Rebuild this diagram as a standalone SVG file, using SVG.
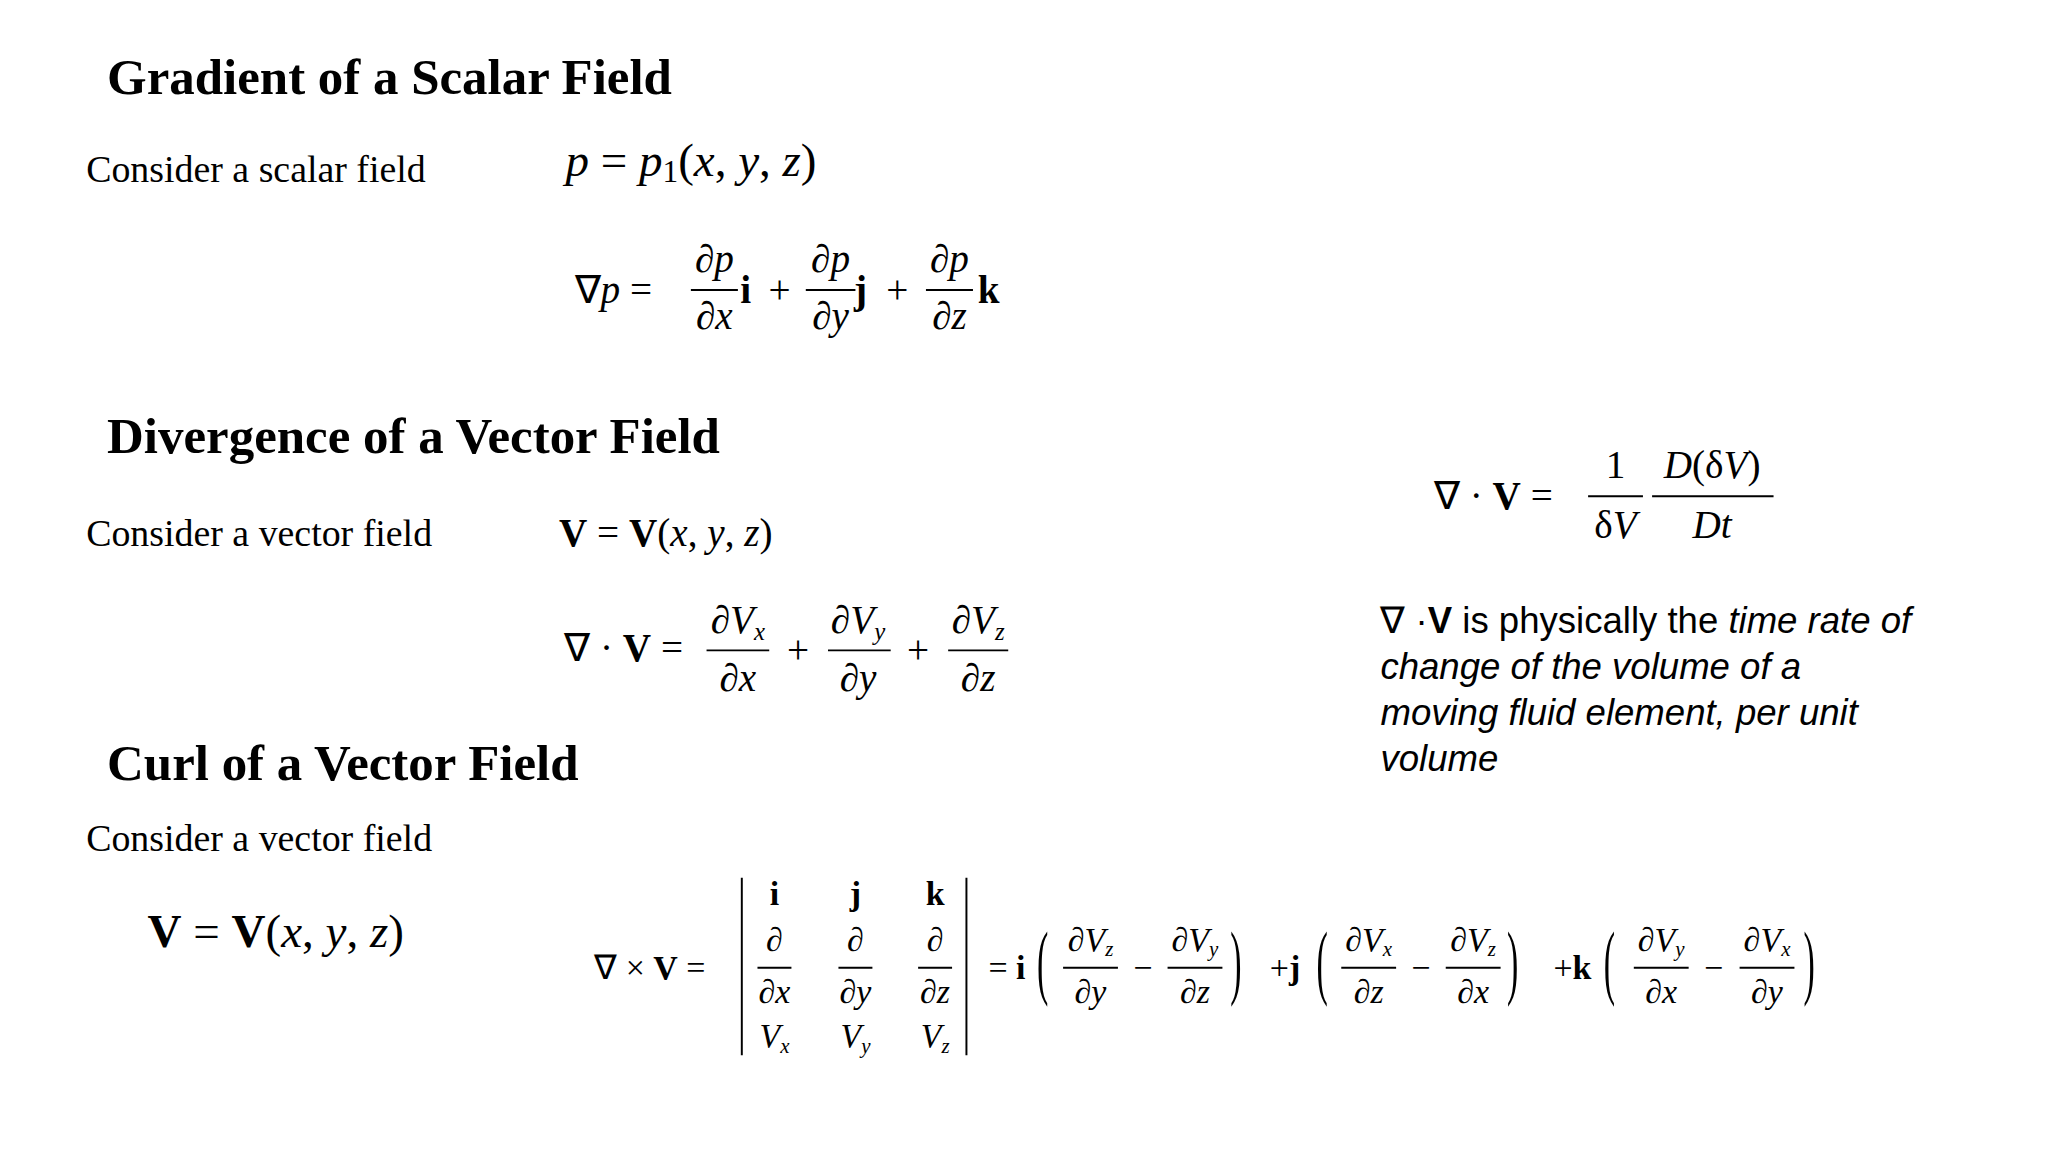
<svg xmlns="http://www.w3.org/2000/svg" width="2048" height="1152" viewBox="0 0 2048 1152">
<style>
.h{font-family:"Liberation Serif",serif;font-weight:bold;font-size:39px}
.t{font-family:"Liberation Serif",serif;font-size:29px}
.m{font-family:"Liberation Serif",serif;font-size:30px}
.i{font-style:italic}
.b{font-weight:bold}
.c{text-anchor:middle}
.s{font-family:"Liberation Sans",sans-serif;font-size:28px}
.l{stroke:#000;stroke-width:1.5}
</style>
<rect width="2048" height="1152" fill="#fff"/>
<g transform="scale(1.306)">
<g id="gradient">
<text class="h" x="82" y="72">Gradient of a Scalar Field</text>
<text class="t" x="66" y="139">Consider a scalar field</text>
<text class="m" x="433" y="135" style="font-size:36px"><tspan class="i">p</tspan> = <tspan class="i">p</tspan><tspan style="font-size:24px" dy="4">1</tspan><tspan dy="-4">(</tspan><tspan class="i">x</tspan>, <tspan class="i">y</tspan>, <tspan class="i">z</tspan>)</text>
<text class="m" x="440" y="232">∇<tspan class="i">p</tspan> =</text>
<g class="m c">
<text x="547" y="208">∂<tspan class="i">p</tspan></text><text x="547" y="252">∂<tspan class="i">x</tspan></text>
<text x="636" y="208">∂<tspan class="i">p</tspan></text><text x="636" y="252">∂<tspan class="i">y</tspan></text>
<text x="727" y="208">∂<tspan class="i">p</tspan></text><text x="727" y="252">∂<tspan class="i">z</tspan></text>
<text class="b" x="571" y="232">i</text><text x="597" y="232">+</text>
<text class="b" x="659" y="232">j</text><text x="687" y="232">+</text>
<text class="b" x="757" y="232">k</text>
</g>
<path class="l" d="M529 222H565M617 222H655M709 222H745"/>
</g>
<g id="divergence">
<text class="h" x="82" y="347">Divergence of a Vector Field</text>
<text class="t" x="66" y="418">Consider a vector field</text>
<text class="m" x="428" y="418"><tspan class="b">V</tspan> = <tspan class="b">V</tspan>(<tspan class="i">x</tspan>, <tspan class="i">y</tspan>, <tspan class="i">z</tspan>)</text>
<text class="m" x="432" y="506">∇ · <tspan class="b">V</tspan> =</text>
<g class="m c">
<text x="565" y="485">∂<tspan class="i">V</tspan><tspan class="i" style="font-size:19px" dy="5">x</tspan></text><text x="565" y="529">∂<tspan class="i">x</tspan></text>
<text x="657" y="485">∂<tspan class="i">V</tspan><tspan class="i" style="font-size:19px" dy="5">y</tspan></text><text x="657" y="529">∂<tspan class="i">y</tspan></text>
<text x="749" y="485">∂<tspan class="i">V</tspan><tspan class="i" style="font-size:19px" dy="5">z</tspan></text><text x="749" y="529">∂<tspan class="i">z</tspan></text>
<text x="611" y="508">+</text><text x="703" y="508">+</text>
</g>
<path class="l" d="M541 498H589M634 498H682M726 498H772"/>
<text class="m" x="1098" y="390">∇ · <tspan class="b">V</tspan> =</text>
<g class="m c">
<text x="1237" y="366">1</text><text x="1237" y="412">δ<tspan class="i">V</tspan></text>
<text x="1311" y="366"><tspan class="i">D</tspan>(δ<tspan class="i">V</tspan>)</text><text x="1311" y="412" class="i">Dt</text>
</g>
<path class="l" d="M1216 380H1258M1265 380H1358"/>
<g class="s">
<text x="1057" y="485">∇ ·<tspan font-weight="bold">V</tspan> is physically the <tspan font-style="italic">time rate of</tspan></text>
<text x="1057" y="520" font-style="italic">change of the volume of a</text>
<text x="1057" y="555" font-style="italic">moving fluid element, per unit</text>
<text x="1057" y="590" font-style="italic">volume</text>
</g>
</g>
<g id="curl">
<text class="h" x="82" y="597">Curl of a Vector Field</text>
<text class="t" x="66" y="652">Consider a vector field</text>
<text class="m" x="113" y="725" style="font-size:36px"><tspan class="b">V</tspan> = <tspan class="b">V</tspan>(<tspan class="i">x</tspan>, <tspan class="i">y</tspan>, <tspan class="i">z</tspan>)</text>
<text class="m" x="455" y="750" style="font-size:26px">∇ × <tspan class="b">V</tspan> =</text>
<path class="l" d="M568 672V808M740 672V808"/>
<g class="m c" style="font-size:26px">
<text class="b" x="593" y="693">i</text><text class="b" x="655" y="693">j</text><text class="b" x="716" y="693">k</text>
<text x="593" y="728">∂</text><text x="655" y="728">∂</text><text x="716" y="728">∂</text>
<text x="593" y="768">∂<tspan class="i">x</tspan></text><text x="655" y="768">∂<tspan class="i">y</tspan></text><text x="716" y="768">∂<tspan class="i">z</tspan></text>
<text x="593" y="802"><tspan class="i">V</tspan><tspan class="i" style="font-size:16px" dy="4">x</tspan></text>
<text x="655" y="802"><tspan class="i">V</tspan><tspan class="i" style="font-size:16px" dy="4">y</tspan></text>
<text x="716" y="802"><tspan class="i">V</tspan><tspan class="i" style="font-size:16px" dy="4">z</tspan></text>
<text x="771" y="750">= <tspan class="b">i</tspan></text>
<text x="835" y="728">∂<tspan class="i">V</tspan><tspan class="i" style="font-size:16px" dy="4">z</tspan></text><text x="835" y="768">∂<tspan class="i">y</tspan></text>
<text x="915" y="728">∂<tspan class="i">V</tspan><tspan class="i" style="font-size:16px" dy="4">y</tspan></text><text x="915" y="768">∂<tspan class="i">z</tspan></text>
<text x="875" y="750">−</text>
<text x="984" y="750">+<tspan class="b">j</tspan></text>
<text x="1048" y="728">∂<tspan class="i">V</tspan><tspan class="i" style="font-size:16px" dy="4">x</tspan></text><text x="1048" y="768">∂<tspan class="i">z</tspan></text>
<text x="1128" y="728">∂<tspan class="i">V</tspan><tspan class="i" style="font-size:16px" dy="4">z</tspan></text><text x="1128" y="768">∂<tspan class="i">x</tspan></text>
<text x="1088" y="750">−</text>
<text x="1204" y="750">+<tspan class="b">k</tspan></text>
<text x="1272" y="728">∂<tspan class="i">V</tspan><tspan class="i" style="font-size:16px" dy="4">y</tspan></text><text x="1272" y="768">∂<tspan class="i">x</tspan></text>
<text x="1353" y="728">∂<tspan class="i">V</tspan><tspan class="i" style="font-size:16px" dy="4">x</tspan></text><text x="1353" y="768">∂<tspan class="i">y</tspan></text>
<text x="1312" y="750">−</text>
</g>
<g class="m" style="font-size:26px">
<text x="794" y="757" transform="translate(794 757) scale(1 2.4) translate(-794 -757)">(</text>
<text x="942" y="757" transform="translate(942 757) scale(1 2.4) translate(-942 -757)">)</text>
<text x="1008" y="757" transform="translate(1008 757) scale(1 2.4) translate(-1008 -757)">(</text>
<text x="1154" y="757" transform="translate(1154 757) scale(1 2.4) translate(-1154 -757)">)</text>
<text x="1228" y="757" transform="translate(1228 757) scale(1 2.4) translate(-1228 -757)">(</text>
<text x="1381" y="757" transform="translate(1381 757) scale(1 2.4) translate(-1381 -757)">)</text>
</g>
<path class="l" d="M580 741H606M642 741H668M703 741H729M814 741H856M894 741H936M1027 741H1069M1107 741H1149M1251 741H1293M1332 741H1374"/>
</g>
</g>
</svg>
